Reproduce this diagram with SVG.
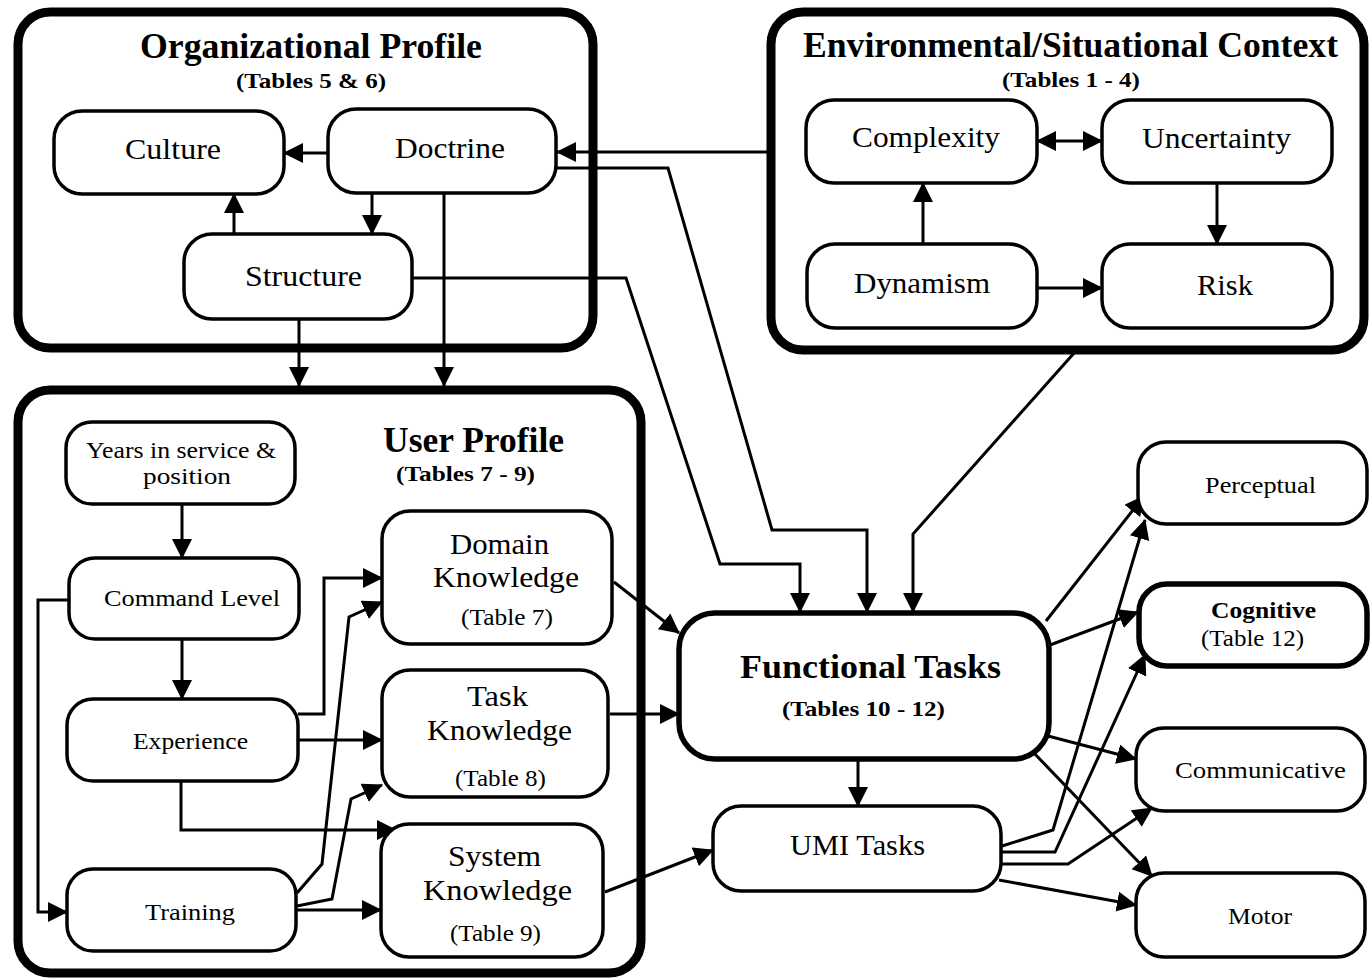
<svg xmlns="http://www.w3.org/2000/svg" width="1372" height="979" viewBox="0 0 1372 979">
<style>
.box{fill:none;stroke:#000;stroke-width:9}
.nd{fill:#fff;stroke:#000;stroke-width:3.5}
.nd2{fill:#fff;stroke:#000;stroke-width:5.5}
.c{fill:none;stroke:#000;stroke-width:3;stroke-linejoin:miter}
text{font-family:"Liberation Serif","Times New Roman",serif;fill:#000}
.t{font-size:36px;font-weight:bold}
.s{font-size:21px;font-weight:bold}
.b{font-size:30px}
.m{font-size:24px}
</style>
<defs>
<marker id="ah" markerUnits="userSpaceOnUse" markerWidth="22" markerHeight="22" viewBox="0 0 22 22" refX="19" refY="10" orient="auto-start-reverse">
<path d="M0,0 L20,10 L0,20 z" fill="#000"/>
</marker>
</defs>
<rect width="1372" height="979" fill="#fff"/>
<g id="org-profile">
<rect class="box" x="18" y="12" width="575" height="336" rx="32"/>
<text class="t" x="140" y="58" textLength="342" lengthAdjust="spacingAndGlyphs">Organizational Profile</text>
<text class="s" x="236" y="88" textLength="150" lengthAdjust="spacingAndGlyphs">(Tables 5 &amp; 6)</text>
</g>
<g id="env-context">
<rect class="box" x="771" y="12" width="593" height="338" rx="32"/>
<text class="t" x="803" y="57" textLength="535" lengthAdjust="spacingAndGlyphs">Environmental/Situational Context</text>
<text class="s" x="1002" y="87" textLength="138" lengthAdjust="spacingAndGlyphs">(Tables 1 - 4)</text>
</g>
<g id="user-profile">
<rect class="box" x="18" y="390" width="623" height="583" rx="32"/>
<text class="t" x="383" y="452" textLength="181" lengthAdjust="spacingAndGlyphs">User Profile</text>
<text class="s" x="396" y="481" textLength="139" lengthAdjust="spacingAndGlyphs">(Tables 7 - 9)</text>
</g>
<g id="connectors" marker-end="url(#ah)">
<path class="c" d="M328,153 L284,153"/>
<path class="c" d="M234,234 L234,194"/>
<path class="c" d="M372,193 L372,234"/>
<path class="c" d="M299,319 L299,386"/>
<path class="c" d="M444,193 L444,386"/>
<path class="c" d="M771,152 L557,152"/>
<path class="c" d="M556,168 L668,168 L772,530 L867,530 L867,612"/>
<path class="c" d="M412,278 L626,278 L720,564 L800,564 L800,612"/>
<path class="c" d="M1075,352 L913,534 L913,612"/>
<path class="c" d="M1037,141 L1102,141" marker-start="url(#ah)"/>
<path class="c" d="M923,244 L923,183"/>
<path class="c" d="M1217,183 L1217,244"/>
<path class="c" d="M1037,288 L1102,288"/>
<path class="c" d="M182,504 L182,558"/>
<path class="c" d="M182,639 L182,699"/>
<path class="c" d="M69,600 L38,600 L38,912 L67,912"/>
<path class="c" d="M298,714 L324,714 L324,578 L382,578"/>
<path class="c" d="M298,740 L382,740"/>
<path class="c" d="M181,781 L181,830 L396,830"/>
<path class="c" d="M297,893 L322,864 L349,617 L382,602"/>
<path class="c" d="M297,906 L332,899 L351,799 L382,785"/>
<path class="c" d="M297,910 L381,910"/>
<path class="c" d="M614,582 L679,633"/>
<path class="c" d="M610,714 L679,714"/>
<path class="c" d="M605,892 L713,850"/>
<path class="c" d="M858,759 L858,806"/>
<path class="c" d="M1046,621 L1144,496"/>
<path class="c" d="M1050,645 L1138,612"/>
<path class="c" d="M1048,736 L1136,759"/>
<path class="c" d="M1033,752 L1152,876"/>
<path class="c" d="M1002,846 L1053,830 L1145,520"/>
<path class="c" d="M1002,852 L1055,852 L1145,655"/>
<path class="c" d="M1001,864 L1068,864 L1152,808"/>
<path class="c" d="M999,880 L1136,905"/>
</g>
<g id="culture"><rect class="nd" x="54" y="111" width="230" height="83" rx="28"/><text class="b" x="125" y="159" textLength="96" lengthAdjust="spacingAndGlyphs">Culture</text></g>
<g id="doctrine"><rect class="nd" x="328" y="109" width="228" height="84" rx="28"/><text class="b" x="395" y="158" textLength="110" lengthAdjust="spacingAndGlyphs">Doctrine</text></g>
<g id="structure"><rect class="nd" x="184" y="234" width="228" height="85" rx="28"/><text class="b" x="245" y="286" textLength="117" lengthAdjust="spacingAndGlyphs">Structure</text></g>
<g id="complexity"><rect class="nd" x="806" y="100" width="231" height="83" rx="28"/><text class="b" x="852" y="147" textLength="148" lengthAdjust="spacingAndGlyphs">Complexity</text></g>
<g id="uncertainty"><rect class="nd" x="1102" y="100" width="230" height="83" rx="28"/><text class="b" x="1142" y="148" textLength="149" lengthAdjust="spacingAndGlyphs">Uncertainty</text></g>
<g id="dynamism"><rect class="nd" x="807" y="244" width="230" height="84" rx="28"/><text class="b" x="854" y="293" textLength="136" lengthAdjust="spacingAndGlyphs">Dynamism</text></g>
<g id="risk"><rect class="nd" x="1102" y="244" width="230" height="84" rx="28"/><text class="b" x="1197" y="295" textLength="56" lengthAdjust="spacingAndGlyphs">Risk</text></g>
<g id="years"><rect class="nd" x="66" y="422" width="229" height="82" rx="26"/><text class="m" x="86" y="458" textLength="190" lengthAdjust="spacingAndGlyphs">Years in service &amp;</text><text class="m" x="143" y="484" textLength="88" lengthAdjust="spacingAndGlyphs">position</text></g>
<g id="command-level"><rect class="nd" x="69" y="558" width="230" height="81" rx="26"/><text class="m" x="104" y="606" textLength="176" lengthAdjust="spacingAndGlyphs">Command Level</text></g>
<g id="experience"><rect class="nd" x="67" y="699" width="231" height="82" rx="26"/><text class="m" x="133" y="749" textLength="115" lengthAdjust="spacingAndGlyphs">Experience</text></g>
<g id="training"><rect class="nd" x="67" y="869" width="229" height="82" rx="26"/><text class="m" x="145" y="920" textLength="90" lengthAdjust="spacingAndGlyphs">Training</text></g>
<g id="domain-knowledge"><rect class="nd" x="382" y="511" width="230" height="133" rx="28"/><text class="b" x="450" y="554" textLength="99" lengthAdjust="spacingAndGlyphs">Domain</text><text class="b" x="433" y="587" textLength="146" lengthAdjust="spacingAndGlyphs">Knowledge</text><text class="m" x="461" y="625" textLength="92" lengthAdjust="spacingAndGlyphs">(Table 7)</text></g>
<g id="task-knowledge"><rect class="nd" x="382" y="670" width="226" height="127" rx="28"/><text class="b" x="467" y="706" textLength="61" lengthAdjust="spacingAndGlyphs">Task</text><text class="b" x="427" y="740" textLength="145" lengthAdjust="spacingAndGlyphs">Knowledge</text><text class="m" x="455" y="786" textLength="91" lengthAdjust="spacingAndGlyphs">(Table 8)</text></g>
<g id="system-knowledge"><rect class="nd" x="381" y="824" width="222" height="133" rx="28"/><text class="b" x="448" y="866" textLength="93" lengthAdjust="spacingAndGlyphs">System</text><text class="b" x="423" y="900" textLength="149" lengthAdjust="spacingAndGlyphs">Knowledge</text><text class="m" x="450" y="941" textLength="91" lengthAdjust="spacingAndGlyphs">(Table 9)</text></g>
<g id="functional-tasks"><rect class="nd2" x="679" y="613" width="370" height="146" rx="36"/><text class="t" style="font-size:33px" x="740" y="678" textLength="261" lengthAdjust="spacingAndGlyphs">Functional Tasks</text><text class="s" x="782" y="716" textLength="163" lengthAdjust="spacingAndGlyphs">(Tables 10 - 12)</text></g>
<g id="umi-tasks"><rect class="nd" x="713" y="806" width="288" height="85" rx="28"/><text class="b" x="790" y="855" textLength="135" lengthAdjust="spacingAndGlyphs">UMI Tasks</text></g>
<g id="perceptual"><rect class="nd" x="1138" y="442" width="229" height="82" rx="28"/><text class="m" x="1205" y="493" textLength="111" lengthAdjust="spacingAndGlyphs">Perceptual</text></g>
<g id="cognitive"><rect class="nd2" x="1139" y="584" width="228" height="82" rx="28"/><text class="m" font-weight="bold" x="1211" y="618" textLength="105" lengthAdjust="spacingAndGlyphs">Cognitive</text><text class="m" x="1201" y="646" textLength="103" lengthAdjust="spacingAndGlyphs">(Table 12)</text></g>
<g id="communicative"><rect class="nd" x="1136" y="728" width="229" height="83" rx="28"/><text class="m" x="1175" y="778" textLength="171" lengthAdjust="spacingAndGlyphs">Communicative</text></g>
<g id="motor"><rect class="nd" x="1136" y="873" width="229" height="84" rx="28"/><text class="m" x="1228" y="924" textLength="64" lengthAdjust="spacingAndGlyphs">Motor</text></g>
</svg>
